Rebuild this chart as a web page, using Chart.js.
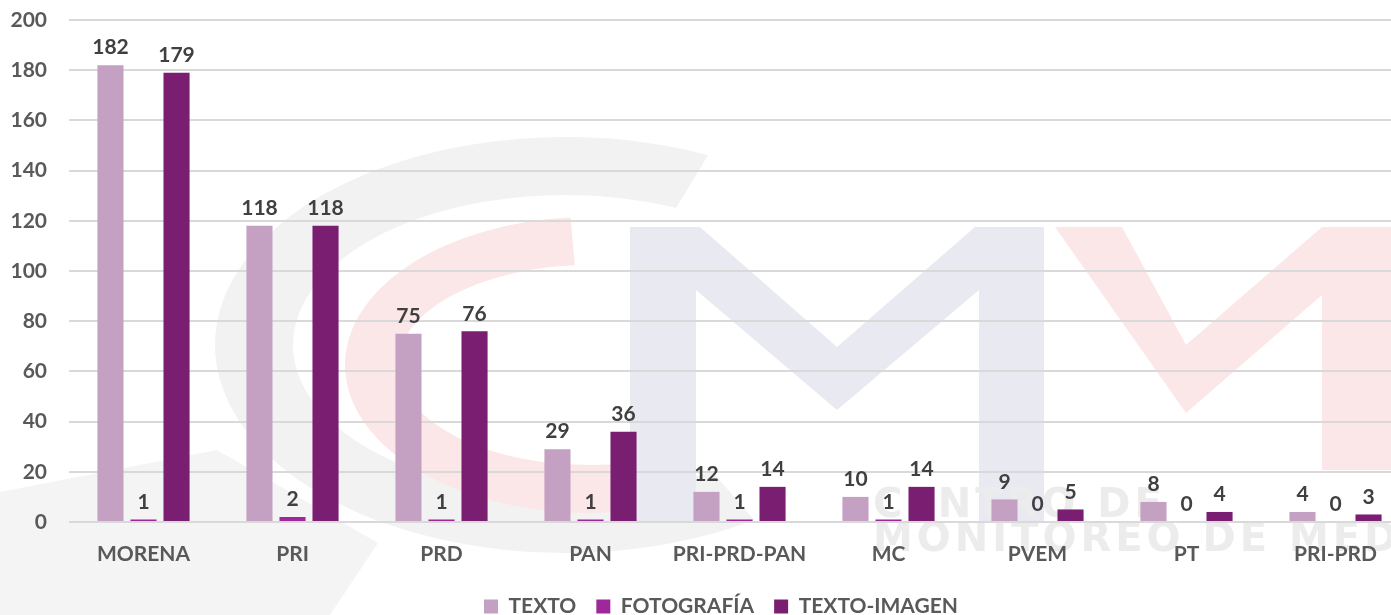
<!DOCTYPE html>
<html>
<head>
<meta charset="utf-8">
<script src="https://cdn.jsdelivr.net/npm/chart.js@4/dist/chart.umd.min.js"></script>
<style>
  html, body { margin: 0; padding: 0; background: #ffffff; overflow: hidden; }
  #wrap { position: relative; width: 1410px; height: 615px; }
</style>
</head>
<body>
<div id="wrap"><canvas id="c" width="1410" height="615"></canvas></div>
<script>
const categories = ['MORENA', 'PRI', 'PRD', 'PAN', 'PRI-PRD-PAN', 'MC', 'PVEM', 'PT', 'PRI-PRD'];
const texto = [182, 118, 75, 29, 12, 10, 9, 8, 4];
const fotografia = [1, 2, 1, 1, 1, 1, 0, 0, 0];
const textoImagen = [179, 118, 76, 36, 14, 14, 5, 4, 3];
const seriesNames = ['TEXTO', 'FOTOGRAFÍA', 'TEXTO-IMAGEN'];
const yTicks = [0, 20, 40, 60, 80, 100, 120, 140, 160, 180, 200];
const watermarkLines = ['CENTRO DE', 'MONITOREO DE MEDIOS'];

const FONT = 'Lato, Carlito, Calibri, "Open Sans", sans-serif';

// faint background logo (decoration only, not data)
const watermark = {
  id: 'watermark',
  afterLayout(chart) {
    // centre the legend like the original (slightly right of canvas centre)
    if (chart.legend) { chart.legend.left += 16; chart.legend.right += 16; }
  },
  beforeDraw(chart) {
    const ctx = chart.ctx;
    ctx.save();
    // grey diagonal shape bottom-left
    ctx.fillStyle = '#F4F4F4';
    ctx.beginPath();
    ctx.moveTo(0, 492); ctx.lineTo(217, 450); ctx.lineTo(378, 543);
    ctx.lineTo(330, 615); ctx.lineTo(0, 615); ctx.closePath(); ctx.fill();
    // grey ring "C"
    ctx.fillStyle = '#F2F2F2';
    ctx.beginPath();
    ctx.ellipse(565, 345, 350, 208, 0, -1.15, 1.0, true);
    ctx.ellipse(565, 345, 272, 150, 0, 1.0, -1.15, false);
    ctx.closePath(); ctx.fill();
    // pink "C"
    ctx.fillStyle = '#FBE7E7';
    ctx.beginPath();
    ctx.ellipse(590, 365, 245, 148, 0, -1.65, 1.15, true);
    ctx.ellipse(590, 365, 192, 100, 0, 1.15, -1.65, false);
    ctx.closePath(); ctx.fill();
    // blue-grey "M"
    ctx.fillStyle = '#E8E9F1';
    ctx.beginPath();
    ctx.moveTo(630, 227); ctx.lineTo(700, 227); ctx.lineTo(837, 347);
    ctx.lineTo(975, 227); ctx.lineTo(1044, 227); ctx.lineTo(1044, 522);
    ctx.lineTo(979, 522); ctx.lineTo(979, 290); ctx.lineTo(837, 410);
    ctx.lineTo(696, 290); ctx.lineTo(696, 522); ctx.lineTo(630, 522);
    ctx.closePath(); ctx.fill();
    // pink "M"
    ctx.fillStyle = '#FBE7E7';
    ctx.beginPath();
    ctx.moveTo(1055, 227); ctx.lineTo(1122, 227); ctx.lineTo(1186, 345);
    ctx.lineTo(1322, 227); ctx.lineTo(1410, 227); ctx.lineTo(1410, 470);
    ctx.lineTo(1322, 470); ctx.lineTo(1322, 295); ctx.lineTo(1186, 413);
    ctx.closePath(); ctx.fill();
    // text
    ctx.fillStyle = '#ECECEC';
    ctx.font = 'bold 40px "DejaVu Sans", sans-serif';
    if ('letterSpacing' in ctx) ctx.letterSpacing = '4px';
    ctx.textBaseline = 'middle';
    ctx.textAlign = 'left';
    ctx.fillText(watermarkLines[0], 873, 507);
    ctx.fillText(watermarkLines[1], 873, 541);
    ctx.restore();
  }
};

const valueLabels = {
  id: 'valueLabels',
  afterDatasetsDraw(chart) {
    const ctx = chart.ctx;
    ctx.save();
    ctx.font = 'bold 21px ' + FONT;
    ctx.fillStyle = '#404040';
    ctx.textAlign = 'center';
    ctx.textBaseline = 'bottom';
    chart.data.datasets.forEach((ds, i) => {
      const meta = chart.getDatasetMeta(i);
      meta.data.forEach((el, j) => {
        ctx.fillText(String(ds.data[j]), el.x, el.y - 7);
      });
    });
    ctx.restore();
  }
};

new Chart(document.getElementById('c'), {
  type: 'bar',
  data: {
    labels: categories,
    datasets: [
      { label: seriesNames[0], data: texto, backgroundColor: '#C4A0C3' },
      { label: seriesNames[1], data: fotografia, backgroundColor: '#9E2899' },
      { label: seriesNames[2], data: textoImagen, backgroundColor: '#7A1E72' }
    ]
  },
  options: {
    responsive: false,
    animation: false,
    events: [],
    layout: { padding: { top: 20, right: 0, bottom: -12, left: 0 } },
    datasets: { bar: { categoryPercentage: 0.665, barPercentage: 0.79 } },
    plugins: {
      tooltip: { enabled: false },
      legend: {
        position: 'bottom',
        labels: {
          font: { family: FONT, size: 21, weight: 'bold' },
          color: '#595959',
          boxWidth: 14,
          boxHeight: 14,
          padding: 20
        }
      }
    },
    scales: {
      x: {
        grid: { display: false },
        border: { display: false },
        ticks: {
          font: { family: FONT, size: 21, weight: 'bold' },
          color: '#595959',
          padding: 12,
          maxRotation: 0,
          autoSkip: false
        },
        afterFit(scale) { scale.height = 54; scale.paddingLeft = 0; scale.paddingRight = 0; }
      },
      y: {
        min: 0,
        max: 200,
        afterBuildTicks(scale) { scale.ticks = yTicks.map(v => ({ value: v })); },
        grid: { color: '#D9D9D9', lineWidth: 2, drawTicks: false },
        border: { display: false },
        ticks: {
          font: { family: FONT, size: 21, weight: 'bold' },
          color: '#595959',
          padding: 22
        },
        afterFit(scale) { scale.width = 69; scale.paddingTop = 0; scale.paddingBottom = 0; }
      }
    }
  },
  plugins: [watermark, valueLabels]
});
</script>
</body>
</html>
